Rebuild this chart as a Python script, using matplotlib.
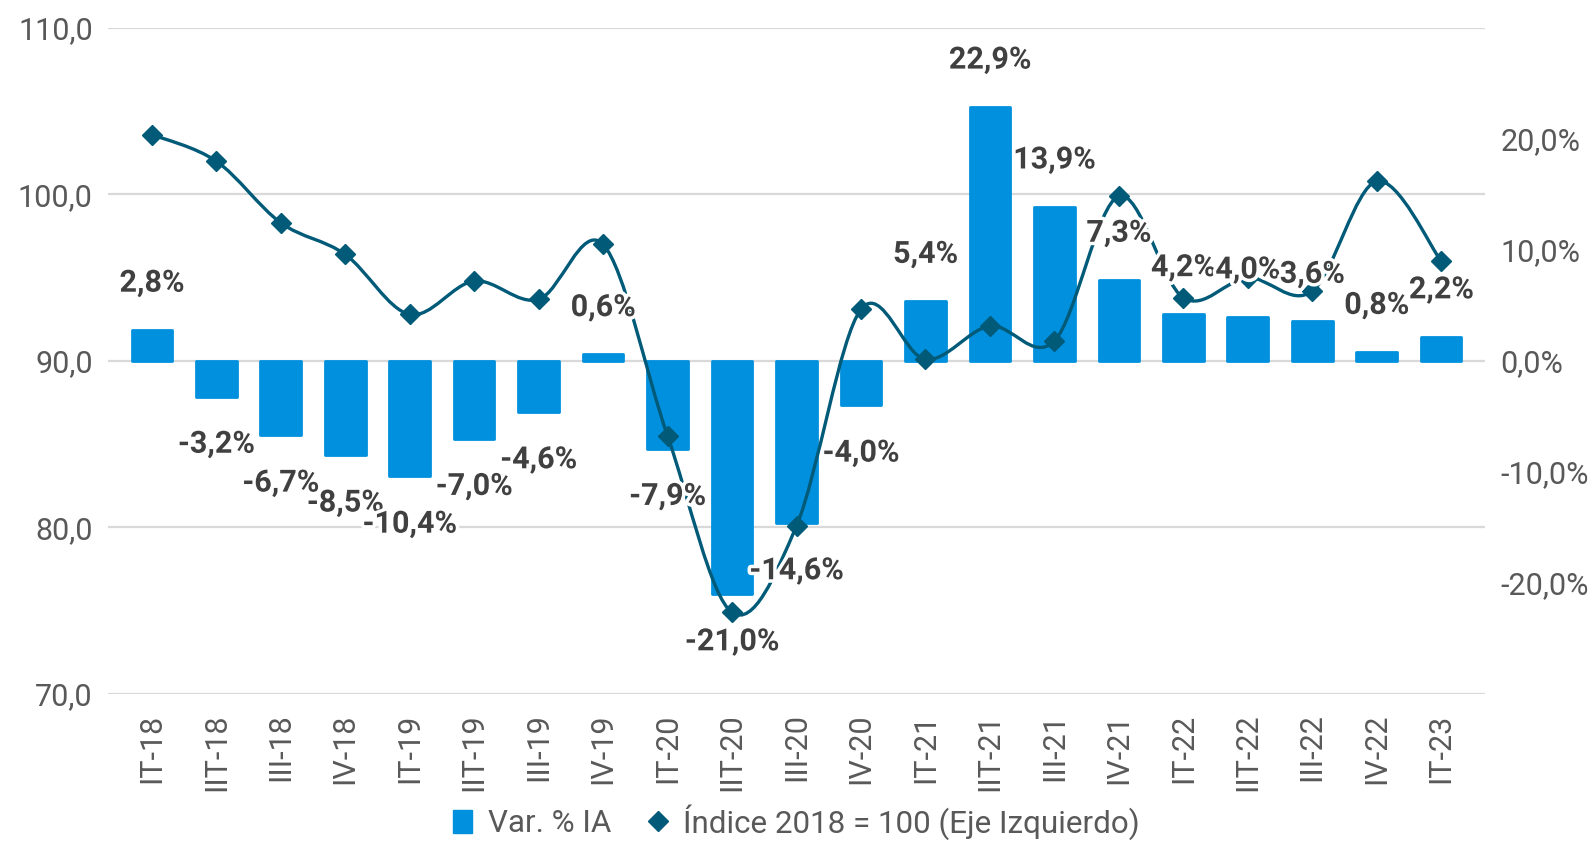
import matplotlib
matplotlib.use('Agg')
import matplotlib.pyplot as plt
import numpy as np
from matplotlib.path import Path
from matplotlib.patches import PathPatch, Patch
from matplotlib.lines import Line2D
from matplotlib.transforms import blended_transform_factory
import matplotlib.patheffects as pe
from matplotlib.ticker import FuncFormatter, FixedLocator

# ---------------- data ----------------
categories = ["IT-18", "IIT-18", "III-18", "IV-18",
              "IT-19", "IIT-19", "III-19", "IV-19",
              "IT-20", "IIT-20", "III-20", "IV-20",
              "IT-21", "IIT-21", "III-21", "IV-21",
              "IT-22", "IIT-22", "III-22", "IV-22",
              "IT-23"]
var_ia = [2.8, -3.2, -6.7, -8.5, -10.4, -7.0, -4.6, 0.6,
          -7.9, -21.0, -14.6, -4.0, 5.4, 22.9, 13.9, 7.3,
          4.2, 4.0, 3.6, 0.8, 2.2]
indice = [103.6, 102.0, 98.3, 96.4, 92.8, 94.8, 93.7, 97.0,
          85.5, 74.9, 80.1, 93.1, 90.1, 92.1, 91.2, 99.9,
          93.8, 95.0, 94.2, 100.8, 96.0]
left_ticks = [70, 80, 90, 100, 110]
right_ticks = [-20, -10, 0, 10, 20]
legend_labels = ["Var. % IA", "Índice 2018 = 100 (Eje Izquierdo)"]

# ---------------- style ----------------
plt.rcParams['font.family'] = ['Roboto', 'DejaVu Sans']
BAR_C = '#0090DE'
LINE_C = '#005A78'
TICK_C = '#595959'
LABEL_C = '#404040'
GRID_C = '#D9D9D9'
FS = 22

W, H = 1593, 846
fig = plt.figure(figsize=(W / 100, H / 100), dpi=100)
ax = fig.add_axes([108 / W, 1 - 694 / H, (1485 - 108) / W, (694 - 28) / H])
ax2 = ax.twinx()

x = np.arange(len(categories))
ax.set_xlim(-0.68, len(categories) - 1 + 0.68)
ax.set_ylim(70, 110)
ax2.set_ylim(-30, 30)

# gridlines (left axis)
ax.yaxis.set_major_locator(FixedLocator(left_ticks))
ax.grid(axis='y', color=GRID_C, linewidth=1.6)
ax.grid(axis='x', visible=False)
ax.set_axisbelow(True)

# bars on right-axis scale, drawn in ax for layering
bar_trans = blended_transform_factory(ax.transData, ax2.transData)
ax.bar(x, var_ia, width=0.63, color=BAR_C, edgecolor=BAR_C, linewidth=2,
       joinstyle='round', transform=bar_trans, zorder=2)

# smoothed line (Excel-like Catmull-Rom Bezier) through the index values
pts = np.column_stack([x, indice]).astype(float)
verts = [tuple(pts[0])]
codes = [Path.MOVETO]
n = len(pts)
for i in range(n - 1):
    p0 = pts[i - 1] if i > 0 else pts[i]
    p1 = pts[i]
    p2 = pts[i + 1]
    p3 = pts[i + 2] if i + 2 < n else pts[i + 1]
    c1 = p1 + (p2 - p0) / 6.0
    c2 = p2 - (p3 - p1) / 6.0
    verts += [tuple(c1), tuple(c2), tuple(p2)]
    codes += [Path.CURVE4] * 3
ax.add_patch(PathPatch(Path(verts, codes), facecolor='none', edgecolor=LINE_C,
                       linewidth=2.4, zorder=3, capstyle='round', joinstyle='round'))
ax.plot(x, indice, linestyle='None', marker='D', markersize=10.5,
        color=LINE_C, markeredgewidth=1, zorder=4)

# data labels
for i, v in enumerate(var_ia):
    off = 34 if v >= 0 else -34
    ax.annotate(f"{v:.1f}%".replace('.', ','), xy=(i, v), xycoords=bar_trans,
                xytext=(0, off), textcoords='offset points',
                ha='center', va='center', fontsize=FS, fontweight='bold',
                color=LABEL_C, zorder=6,
                path_effects=[pe.withStroke(linewidth=5, foreground='white')])

# axes formatting
ax.set_xticks(x)
ax.set_xticklabels(categories, rotation=90, fontsize=FS, color=TICK_C)
ax.yaxis.set_major_formatter(FuncFormatter(lambda v, p: f"{v:.1f}".replace('.', ',')))
ax.tick_params(axis='y', length=0, pad=11, labelsize=FS, labelcolor=TICK_C)
ax.tick_params(axis='x', length=0, pad=14)

ax2.yaxis.set_major_locator(FixedLocator(right_ticks))
ax2.yaxis.set_major_formatter(FuncFormatter(lambda v, p: f"{v:.1f}%".replace('.', ',')))
ax2.tick_params(axis='y', length=0, pad=11, labelsize=FS, labelcolor=TICK_C)

for a in (ax, ax2):
    for s in a.spines.values():
        s.set_visible(False)

# legend
handles = [Patch(facecolor=BAR_C, edgecolor=BAR_C),
           Line2D([], [], linestyle='None', marker='D', markersize=10,
                  color=LINE_C)]
leg = fig.legend(handles, legend_labels, loc='lower center',
                 bbox_to_anchor=(0.5, -0.026), ncol=2, frameon=False,
                 fontsize=22.6, handlelength=0.6, handleheight=0.75,
                 handletextpad=0.5, columnspacing=1.2)
for t in leg.get_texts():
    t.set_color(TICK_C)

fig.savefig('out.png', dpi=100)
